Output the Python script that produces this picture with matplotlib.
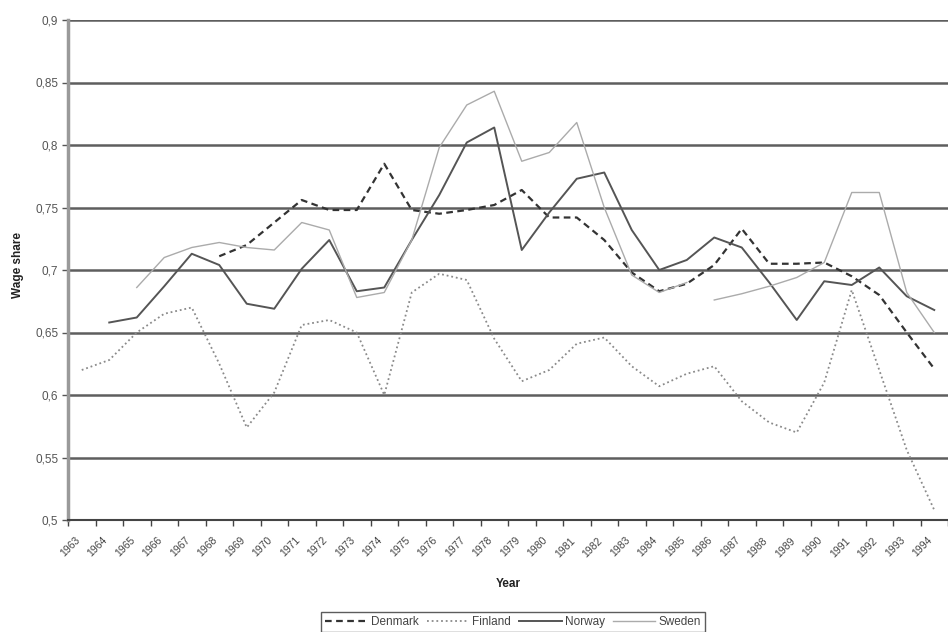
import matplotlib
matplotlib.use("Agg")
import matplotlib.pyplot as plt
import numpy as np

plt.rcParams['font.family'] = ['Liberation Sans', 'DejaVu Sans']

years = list(range(1963, 1995))

denmark_years = list(range(1968, 1995))
denmark = [0.711, 0.720, 0.738, 0.756, 0.748, 0.748, 0.785, 0.748, 0.745, 0.748,
           0.752, 0.764, 0.742, 0.742, 0.724, 0.698, 0.683, 0.689, 0.704, 0.733,
           0.705, 0.705, 0.706, 0.695, 0.680, 0.650, 0.621]

finland_years = list(range(1963, 1995))
finland = [0.620, 0.628, 0.650, 0.665, 0.670, 0.625, 0.574, 0.602, 0.656, 0.660,
           0.650, 0.600, 0.682, 0.697, 0.692, 0.645, 0.611, 0.620, 0.641, 0.646,
           0.623, 0.607, 0.617, 0.623, 0.595, 0.578, 0.570, 0.610, 0.684, 0.620,
           0.556, 0.508]

norway_years = list(range(1964, 1995))
norway = [0.658, 0.662, 0.687, 0.713, 0.704, 0.673, 0.669, 0.701, 0.724, 0.683,
          0.686, 0.724, 0.760, 0.802, 0.814, 0.716, 0.746, 0.773, 0.778, 0.732,
          0.700, 0.708, 0.726, 0.718, 0.690, 0.660, 0.691, 0.688, 0.702, 0.679,
          0.668]

sweden_years_a = list(range(1965, 1986))
sweden_a = [0.686, 0.710, 0.718, 0.722, 0.718, 0.716, 0.738, 0.732, 0.678, 0.682,
            0.724, 0.798, 0.832, 0.843, 0.787, 0.794, 0.818, 0.750, 0.696, 0.682,
            0.690]
sweden_years_b = list(range(1986, 1995))
sweden_b = [0.676, 0.681, 0.687, 0.694, 0.706, 0.762, 0.762, 0.682, 0.650]

y_ticks = [0.5, 0.55, 0.6, 0.65, 0.7, 0.75, 0.8, 0.85, 0.9]
y_labels = ['0,5', '0,55', '0,6', '0,65', '0,7', '0,75', '0,8', '0,85', '0,9']

W, H = 948, 632
fig = plt.figure(figsize=(W / 100, H / 100), dpi=100)
ax = fig.add_axes([68 / W, 1 - 520 / H, 1 - 68 / W, (520 - 20) / H])

def xi(yrs):
    return [years.index(y) for y in yrs]

for yv in y_ticks[1:]:
    ax.axhline(yv, color='#5e5e5e', lw=1.8, zorder=1)

ax.plot(xi(denmark_years), denmark, color='#333333', lw=1.6, dashes=[3, 2],
        label='Denmark', zorder=3)
ax.plot(xi(finland_years), finland, color='#8a8a8a', lw=1.3, dashes=[1, 1.6],
        label='Finland', zorder=3)
ax.plot(xi(norway_years), norway, color='#555555', lw=1.4, label='Norway', zorder=3)
ax.plot(xi(sweden_years_a), sweden_a, color='#ababab', lw=1.0, label='Sweden', zorder=3)
ax.plot(xi(sweden_years_b), sweden_b, color='#ababab', lw=1.0, zorder=3)

n = len(years)
ax.set_xlim(-0.5, -0.5 + 880 / 27.8)
ax.set_ylim(0.5, 0.9)
ax.set_yticks(y_ticks)
ax.set_yticklabels(y_labels, fontsize=8.5, color='#555555')
ax.set_xticks(range(n))
ax.set_xticklabels([str(y) for y in years], rotation=45, ha='right', va='top',
                   fontsize=7.5, color='#444444')
ax.set_xticks(np.arange(n + 1) - 0.5, minor=True)
ax.tick_params(axis='x', which='major', length=0, pad=11)
ax.tick_params(axis='x', which='minor', length=4, width=1, color='#444444', direction='out')
ax.tick_params(axis='y', length=4, width=1, color='#555555', pad=3)

for s in ['top', 'right']:
    ax.spines[s].set_visible(False)
ax.spines['left'].set_color('#9a9a9a')
ax.spines['left'].set_linewidth(2.5)
ax.spines['bottom'].set_color('#444444')
ax.spines['bottom'].set_linewidth(1.5)

fig.text(18 / W, 1 - 265 / H, 'Wage share', rotation=90, ha='center', va='center',
         fontsize=8.5, fontweight='bold', color='#222222')
fig.text(508 / W, 1 - 584 / H, 'Year', ha='center', va='center',
         fontsize=8.5, fontweight='bold', color='#222222')

leg = fig.legend(loc='center', bbox_to_anchor=(513 / W, 1 - 622 / H), ncol=4,
                 fontsize=8.5, frameon=True, fancybox=False, edgecolor='#333333',
                 handlelength=3.6, handletextpad=0.25, columnspacing=0.7,
                 borderpad=0.35, borderaxespad=0)
leg.get_frame().set_linewidth(1.0)
for t in leg.get_texts():
    t.set_color('#444444')

fig.savefig('out.png', dpi=100)
